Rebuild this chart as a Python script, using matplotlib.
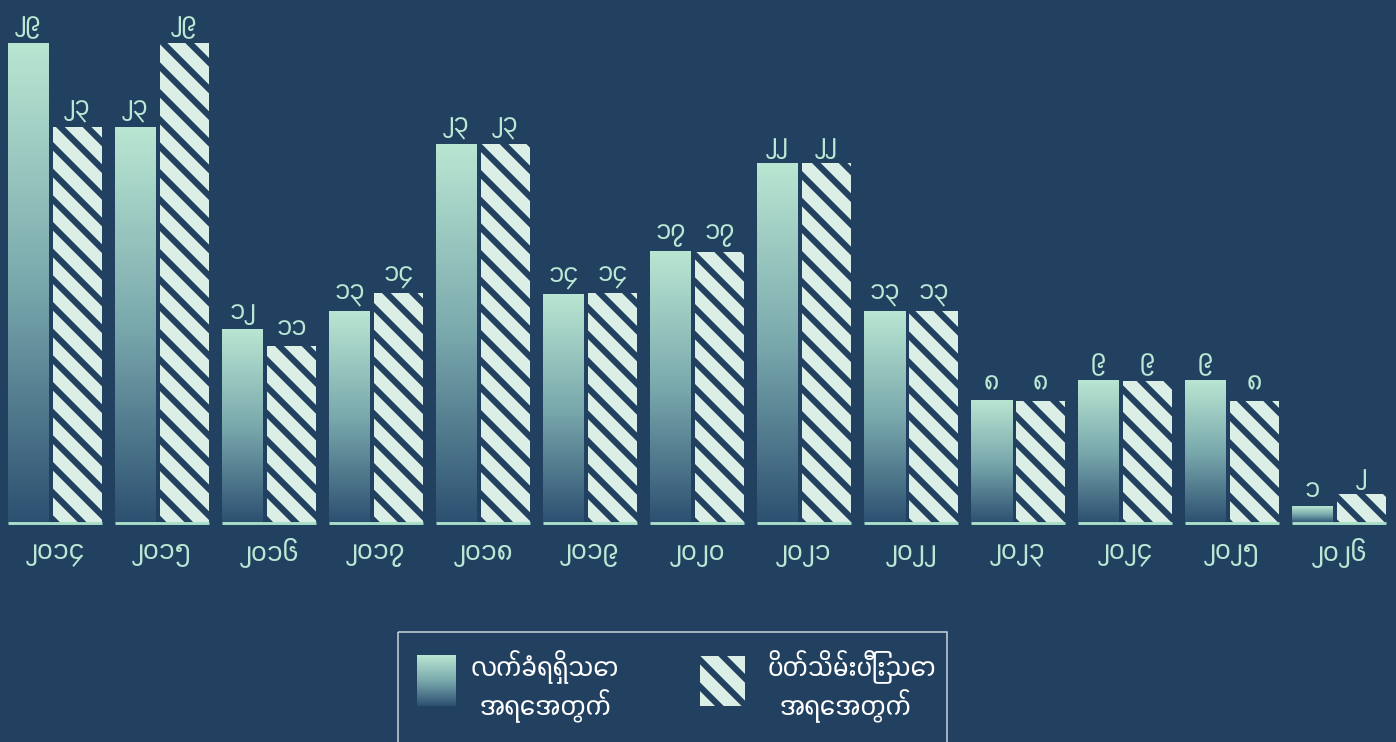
import numpy as np
import matplotlib
matplotlib.use("Agg")
import matplotlib.pyplot as plt
from matplotlib import font_manager
from matplotlib.ft2font import FT2Font
from matplotlib.colors import LinearSegmentedColormap
from matplotlib.patches import Rectangle

# data (heights), labels as printed on the bars
years = ["၂၀၁၄", "၂၀၁၅", "၂၀၁၆", "၂၀၁၇", "၂၀၁၈", "၂၀၁၉", "၂၀၂၀",
         "၂၀၂၁", "၂၀၂၂", "၂၀၂၃", "၂၀၂၄", "၂၀၂၅", "၂၀၂၆"]
received = [29.0, 23.9, 11.7, 12.8, 22.9, 13.8, 16.4, 21.75, 12.8, 7.4, 8.6, 8.6, 0.97]
closed = [23.9, 29.0, 10.7, 13.9, 22.9, 13.9, 16.4, 21.75, 12.8, 7.4, 8.6, 7.4, 1.75]
received_labels = ["၂၉", "၂၃", "၁၂", "၁၃", "၂၃", "၁၄", "၁၇", "၂၂", "၁၃", "၈", "၉", "၉", "၁"]
closed_labels = ["၂၃", "၂၉", "၁၁", "၁၄", "၂၃", "၁၄", "၁၇", "၂၂", "၁၃", "၈", "၉", "၈", "၂"]
legend_names = [["လက်ခံရရှိသော", "အရေအတွက်"], ["ပိတ်သိမ်းပြီးသော", "အရေအတွက်"]]

bg = "#22405f"
mint = "#bde7d5"
stripe = "#dcefe6"
line_col = "#a9dfc8"


def find_font(chars):
    # pick the Myanmar-capable font with the narrowest digits
    seen = set()
    found = []
    for f in font_manager.fontManager.ttflist:
        if f.fname in seen:
            continue
        seen.add(f.fname)
        try:
            ft = FT2Font(f.fname)
            cmap = ft.get_charmap()
        except Exception:
            continue
        if all(ord(c) in cmap for c in chars):
            ft.set_size(10, 72)
            g = ft.load_char(ord("၂"))
            found.append((g.linearHoriAdvance / 65536, f.name))
    found.sort()
    return found[0][1] if found else None


my_font = find_font("၀၁၂လက")
families = [my_font, "DejaVu Sans"] if my_font else ["DejaVu Sans"]
plt.rcParams["font.family"] = families
plt.rcParams["hatch.linewidth"] = 5.7

grad_cmap = LinearSegmentedColormap.from_list("g", ["#2c5071", "#7aa9ad", "#b9e6d2"])
grad = np.linspace(0, 1, 256).reshape(-1, 1)

dpi = 160
fig = plt.figure(figsize=(1396 / dpi, 742 / dpi), dpi=dpi, facecolor=bg)
ax = fig.add_axes([0, 0, 1, 1])
ax.set_facecolor(bg)
ax.axis("off")

pitch = 107.0
ppu = 16.55
w1 = 41 / pitch
gap = 45 / pitch
w2 = 49 / pitch
x = np.arange(len(years))

for i in x:
    h = received[i]
    ax.imshow(grad, extent=[i, i + w1, 0, h], aspect="auto", cmap=grad_cmap,
              origin="lower", zorder=2, interpolation="bicubic")

ax.bar(x + gap, closed, w2, align="edge", facecolor=bg, edgecolor=stripe,
       linewidth=0, hatch="\\\\", zorder=2)

ax.hlines(np.zeros(len(x)), x, x + gap + w2, color=line_col, lw=1.3, zorder=3)

for i in x:
    ax.annotate(received_labels[i], (i + w1 / 2, received[i]), xytext=(0, 2),
                textcoords="offset points", ha="center", va="bottom",
                color=mint, fontsize=12.5)
    ax.annotate(closed_labels[i], (i + gap + w2 / 2, closed[i]), xytext=(0, 2),
                textcoords="offset points", ha="center", va="bottom",
                color=mint, fontsize=12.5)
    ax.text(i + (gap + w2) / 2, -29 / ppu, years[i], ha="center", va="center",
            color=mint, fontsize=13)

ax.set_xlim(-8 / pitch, -8 / pitch + 1396 / pitch)
ax.set_ylim(-(742 - 523) / ppu, 523 / ppu)

# legend drawn by hand in pixel space
lg = fig.add_axes([0, 0, 1, 1], facecolor="none")
lg.axis("off")
lg.add_patch(Rectangle((398, 632), 549, 130, fill=False, edgecolor="#c9d2da", lw=0.7))
lg.imshow(grad, extent=[417, 456, 706, 655], aspect="auto", cmap=grad_cmap,
          origin="lower", interpolation="bicubic")
lg.add_patch(Rectangle((700, 656), 45, 50, facecolor=bg, edgecolor=stripe,
                       linewidth=0, hatch="\\\\"))
lg.text(545, 667, legend_names[0][0], ha="center", va="center", color="white", fontsize=12.8)
lg.text(545, 706, legend_names[0][1], ha="center", va="center", color="white", fontsize=12.8)
lg.text(852, 667, legend_names[1][0], ha="center", va="center", color="white", fontsize=12.8)
lg.text(845, 706, legend_names[1][1], ha="center", va="center", color="white", fontsize=12.8)
lg.set_xlim(0, 1396)
lg.set_ylim(742, 0)

fig.savefig("out.png", dpi=dpi, facecolor=bg)
